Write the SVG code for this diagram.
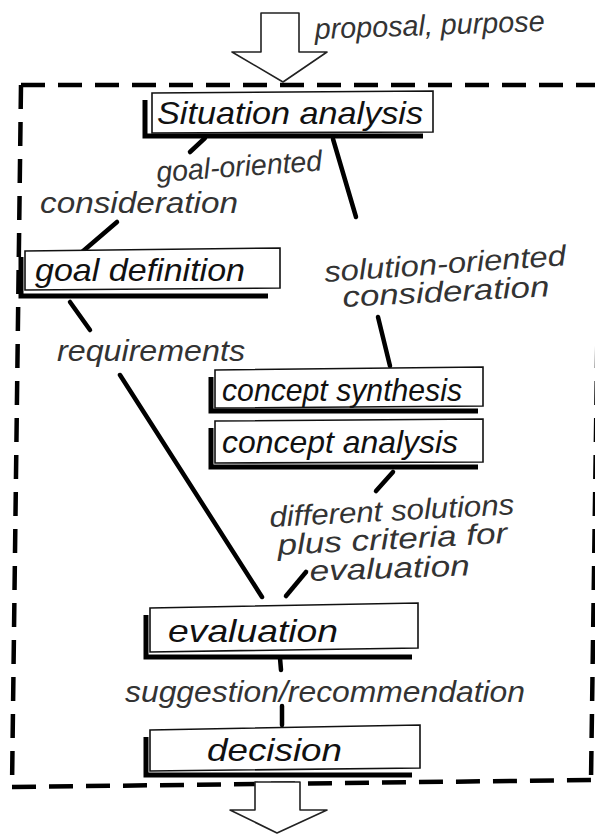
<svg xmlns="http://www.w3.org/2000/svg" width="595" height="834" viewBox="0 0 595 834">
<style>
.box{fill:#fff;stroke:#111;stroke-width:1.6}
.shadow{fill:none;stroke:#000;stroke-width:5;stroke-linejoin:miter}
.lbl{font-family:"Liberation Sans",Arial,sans-serif;font-style:italic;font-size:32px;fill:#111}
.ann{font-family:"Liberation Sans",Arial,sans-serif;font-style:italic;font-size:29px;fill:#333}
.con{stroke:#000;stroke-width:4.5;stroke-linecap:round;fill:none}
.dash{stroke:#000;stroke-width:4.5;fill:none;stroke-dasharray:24 13}
.arrow{fill:#fff;stroke:#222;stroke-width:1.6;stroke-linejoin:round}
</style>
<rect width="595" height="834" fill="#fff"/>
<g id="frame">
<path class="dash" d="M21,85 L597,85"/>
<path class="dash" d="M21,85 L12,787"/>
<path class="dash" d="M12,787 L592,780"/>
<path class="dash" d="M601,85 L591,780"/>
</g>
<g id="input-arrow">
<path class="arrow" d="M261,13 L299,13 L299,52 L327,52 L283,82 L232,52 L261,52 Z"/>
<text class="ann" x="315" y="39" textLength="230" lengthAdjust="spacingAndGlyphs" transform="rotate(-2 315 39)">proposal, purpose</text>
</g>
<g id="output-arrow">
<path class="arrow" d="M255,782 L300,782 L300,810 L327,810 L277,833 L230,810 L255,810 Z"/>
</g>
<g id="connectors">
<line class="con" x1="205" y1="138" x2="190" y2="152"/>
<line class="con" x1="117" y1="222" x2="82" y2="252"/>
<line class="con" x1="70" y1="302" x2="90" y2="330"/>
<line class="con" x1="120" y1="375" x2="262" y2="597" stroke-width="4"/>
<line class="con" x1="333" y1="139" x2="356" y2="217"/>
<line class="con" x1="378" y1="317" x2="390" y2="366"/>
<line class="con" x1="393" y1="472" x2="376" y2="491"/>
<line class="con" x1="306" y1="572" x2="286" y2="596"/>
<line class="con" x1="280" y1="658" x2="281" y2="670"/>
<line class="con" x1="282" y1="706" x2="282" y2="725"/>
</g>
<g id="situation-analysis">
<path class="shadow" d="M145,100 L145,136 L423,136"/>
<path class="box" d="M152,93 L433,91 L433,132 L152,133 Z"/>
<text class="lbl" x="157" y="124" textLength="266" lengthAdjust="spacingAndGlyphs">Situation analysis</text>
</g>
<g id="goal-definition">
<path class="shadow" d="M21,257 L21,296 L268,296"/>
<path class="box" d="M25,251 L280,248 L280,288 L25,290 Z"/>
<text class="lbl" x="35" y="281" textLength="210" lengthAdjust="spacingAndGlyphs" font-size="30">goal definition</text>
</g>
<g id="concept-synthesis">
<path class="shadow" d="M211,377 L211,411 L478,411"/>
<path class="box" d="M215,370 L483,367 L483,406 L215,408 Z"/>
<text class="lbl" x="222" y="401" textLength="240" lengthAdjust="spacingAndGlyphs" font-size="31">concept synthesis</text>
</g>
<g id="concept-analysis">
<path class="shadow" d="M211,428 L211,467 L478,467"/>
<path class="box" d="M215,421 L483,419 L483,462 L215,463 Z"/>
<text class="lbl" x="222" y="453" textLength="236" lengthAdjust="spacingAndGlyphs" font-size="31">concept analysis</text>
</g>
<g id="evaluation">
<path class="shadow" d="M146,615 L146,657 L412,657"/>
<path class="box" d="M150,608 L418,603 L418,648 L150,652 Z"/>
<text class="lbl" x="168" y="642" textLength="170" lengthAdjust="spacingAndGlyphs" font-size="32">evaluation</text>
</g>
<g id="decision">
<path class="shadow" d="M146,737 L146,775 L412,775"/>
<path class="box" d="M150,730 L420,725 L420,768 L150,771 Z"/>
<text class="lbl" x="207" y="761" textLength="135" lengthAdjust="spacingAndGlyphs" font-size="33">decision</text>
</g>
<g id="labels">
<text class="ann" x="157" y="182" textLength="166" lengthAdjust="spacingAndGlyphs" transform="rotate(-4 157 182)">goal-oriented</text>
<text class="ann" x="40" y="213" textLength="198" lengthAdjust="spacingAndGlyphs" font-size="30">consideration</text>
<text class="ann" x="57" y="361" textLength="188" lengthAdjust="spacingAndGlyphs">requirements</text>
<text class="ann" x="325" y="282" textLength="242" lengthAdjust="spacingAndGlyphs" transform="rotate(-4 325 282)">solution-oriented</text>
<text class="ann" x="343" y="307" textLength="207" lengthAdjust="spacingAndGlyphs" transform="rotate(-3 343 307)">consideration</text>
<text class="ann" x="270" y="527" textLength="245" lengthAdjust="spacingAndGlyphs" transform="rotate(-3 270 527)">different solutions</text>
<text class="ann" x="278" y="555" textLength="230" lengthAdjust="spacingAndGlyphs" transform="rotate(-3 278 555)">plus criteria for</text>
<text class="ann" x="310" y="581" textLength="160" lengthAdjust="spacingAndGlyphs" transform="rotate(-2 310 581)">evaluation</text>
<text class="ann" x="125" y="702" textLength="400" lengthAdjust="spacingAndGlyphs">suggestion/recommendation</text>
</g>
</svg>
